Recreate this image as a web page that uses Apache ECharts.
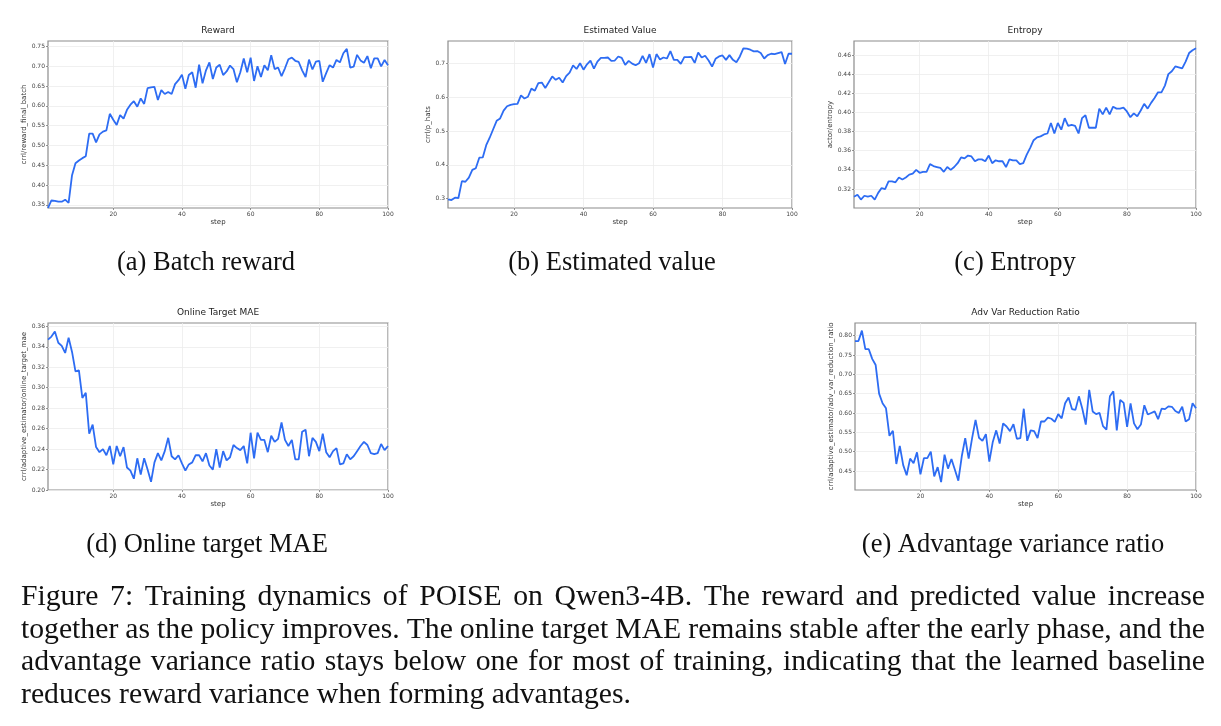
<!DOCTYPE html>
<html>
<head>
<meta charset="utf-8">
<script src="https://cdn.jsdelivr.net/npm/echarts@6/dist/echarts.min.js"></script>
<style>
html, body { margin: 0; padding: 0; background: #fff; }
#main { width: 1221px; height: 726px; }
</style>
</head>
<body>
<div id="main"></div>
<script>
// x values: training step
var steps = [];
for (var i = 1; i <= 100; i++) steps.push(i);

// (a) crrl/reward_final_batch
var reward = [
  0.342,0.361,0.360,0.358,0.358,0.363,0.355,0.425,0.455,0.462,
  0.468,0.473,0.530,0.530,0.508,0.528,0.535,0.538,0.580,0.565,
  0.552,0.577,0.568,0.590,0.603,0.612,0.598,0.619,0.605,0.645,
  0.647,0.648,0.615,0.640,0.630,0.635,0.630,0.655,0.665,0.679,
  0.643,0.678,0.685,0.646,0.704,0.657,0.690,0.710,0.668,0.697,
  0.704,0.678,0.687,0.702,0.693,0.660,0.685,0.720,0.685,0.722,
  0.663,0.700,0.673,0.703,0.690,0.728,0.693,0.697,0.675,0.695,
  0.718,0.722,0.714,0.711,0.690,0.673,0.717,0.692,0.712,0.714,
  0.661,0.683,0.703,0.697,0.716,0.710,0.733,0.744,0.697,0.699,
  0.729,0.715,0.709,0.726,0.695,0.720,0.720,0.700,0.716,0.703
];

// (b) crrl/p_hats
var estValue = [
  0.298,0.296,0.303,0.302,0.352,0.350,0.362,0.385,0.390,0.421,
  0.422,0.458,0.480,0.505,0.530,0.537,0.560,0.573,0.577,0.579,
  0.580,0.605,0.596,0.601,0.625,0.619,0.641,0.643,0.627,0.644,
  0.661,0.651,0.657,0.643,0.662,0.672,0.694,0.683,0.700,0.681,
  0.697,0.708,0.684,0.705,0.716,0.716,0.717,0.707,0.708,0.720,
  0.716,0.695,0.707,0.699,0.694,0.700,0.722,0.701,0.727,0.687,
  0.727,0.711,0.717,0.714,0.736,0.710,0.710,0.698,0.718,0.718,
  0.719,0.701,0.732,0.717,0.722,0.708,0.690,0.713,0.720,0.723,
  0.710,0.724,0.710,0.703,0.720,0.744,0.743,0.740,0.735,0.736,
  0.730,0.714,0.724,0.728,0.727,0.730,0.733,0.698,0.728,0.728
];

// (c) actor/entropy
var entropy = [
  0.312,0.314,0.309,0.313,0.312,0.313,0.309,0.316,0.321,0.320,
  0.328,0.328,0.327,0.332,0.330,0.332,0.335,0.336,0.340,0.337,
  0.338,0.338,0.346,0.344,0.343,0.342,0.338,0.343,0.340,0.343,
  0.347,0.353,0.352,0.355,0.354,0.349,0.351,0.351,0.349,0.355,
  0.347,0.350,0.349,0.349,0.343,0.351,0.350,0.350,0.346,0.347,
  0.356,0.363,0.371,0.374,0.375,0.377,0.378,0.389,0.378,0.389,
  0.382,0.394,0.386,0.387,0.386,0.378,0.394,0.397,0.384,0.384,
  0.384,0.404,0.398,0.405,0.398,0.406,0.404,0.404,0.405,0.401,
  0.395,0.399,0.396,0.402,0.409,0.404,0.410,0.415,0.421,0.421,
  0.428,0.440,0.443,0.448,0.447,0.446,0.453,0.462,0.465,0.467
];

// (d) crrl/adaptive_estimator/online_target_mae
var onlineMae = [
  0.347,0.350,0.355,0.344,0.341,0.334,0.349,0.335,0.316,0.317,
  0.290,0.295,0.255,0.264,0.242,0.237,0.240,0.234,0.243,0.225,
  0.243,0.233,0.242,0.222,0.219,0.211,0.231,0.215,0.231,0.220,
  0.208,0.227,0.236,0.229,0.238,0.251,0.233,0.230,0.234,0.226,
  0.219,0.225,0.227,0.234,0.234,0.228,0.236,0.224,0.220,0.240,
  0.222,0.238,0.229,0.232,0.244,0.241,0.239,0.243,0.226,0.256,
  0.231,0.256,0.249,0.249,0.237,0.253,0.247,0.250,0.266,0.249,
  0.243,0.249,0.230,0.230,0.257,0.259,0.233,0.251,0.247,0.238,
  0.255,0.237,0.232,0.238,0.241,0.225,0.226,0.235,0.230,0.233,
  0.238,0.243,0.247,0.244,0.236,0.235,0.236,0.245,0.239,0.243
];

// (e) crrl/adaptive_estimator/adv_var_reduction_ratio
var advRatio = [
  0.786,0.786,0.813,0.765,0.765,0.740,0.724,0.650,0.625,0.612,
  0.541,0.554,0.468,0.515,0.465,0.439,0.482,0.470,0.498,0.441,
  0.483,0.483,0.500,0.436,0.460,0.421,0.492,0.456,0.481,0.453,
  0.425,0.488,0.535,0.482,0.535,0.582,0.536,0.528,0.545,0.474,
  0.525,0.555,0.521,0.573,0.565,0.553,0.571,0.533,0.535,0.611,
  0.528,0.555,0.553,0.535,0.578,0.578,0.588,0.585,0.577,0.597,
  0.586,0.625,0.640,0.610,0.608,0.643,0.611,0.570,0.660,0.604,
  0.597,0.600,0.566,0.557,0.643,0.656,0.555,0.634,0.626,0.564,
  0.625,0.573,0.558,0.570,0.620,0.596,0.600,0.604,0.584,0.611,
  0.610,0.617,0.616,0.605,0.600,0.616,0.578,0.584,0.625,0.612
];

// tick values
var xTicks = [20, 40, 60, 80, 100];
var yTicksReward  = [0.35, 0.40, 0.45, 0.50, 0.55, 0.60, 0.65, 0.70, 0.75];
var yTicksValue   = [0.3, 0.4, 0.5, 0.6, 0.7];
var yTicksEntropy = [0.32, 0.34, 0.36, 0.38, 0.40, 0.42, 0.44, 0.46];
var yTicksMae     = [0.20, 0.22, 0.24, 0.26, 0.28, 0.30, 0.32, 0.34, 0.36];
var yTicksRatio   = [0.45, 0.50, 0.55, 0.60, 0.65, 0.70, 0.75, 0.80];

var titles = ['Reward', 'Estimated Value', 'Entropy', 'Online Target MAE', 'Adv Var Reduction Ratio'];
var yNames = ['crrl/reward_final_batch', 'crrl/p_hats', 'actor/entropy',
              'crrl/adaptive_estimator/online_target_mae',
              'crrl/adaptive_estimator/adv_var_reduction_ratio'];
var subCaptions = ['(a) Batch reward', '(b) Estimated value', '(c) Entropy',
                   '(d) Online target MAE', '(e) Advantage variance ratio'];
var captionLines = [
  'Figure 7: Training dynamics of POISE on Qwen3-4B. The reward and predicted value increase',
  'together as the policy improves. The online target MAE remains stable after the early phase, and the',
  'advantage variance ratio stays below one for most of training, indicating that the learned baseline',
  'reduces reward variance when forming advantages.'
];
var seriesData = [reward, estValue, entropy, onlineMae, advRatio];
var yTickSets = [yTicksReward, yTicksValue, yTicksEntropy, yTicksMae, yTicksRatio];

// layout of each panel (pixels) and axis ranges
var panels = [
  {left: 48,  top: 41,  width: 340, yMin: 0.342, yMax: 0.764, step: 0.05, dec: 2, split: 8, yNameX: 27, capX: 206, capY: 263},
  {left: 448, top: 41,  width: 344, yMin: 0.2725, yMax: 0.7657, step: 0.1, dec: 1, split: 5, yNameX: 430, capX: 612, capY: 263},
  {left: 854, top: 41,  width: 342, yMin: 0.3002, yMax: 0.4746, step: 0.02, dec: 2, split: 9, yNameX: 835, capX: 1015, capY: 263},
  {left: 48,  top: 323, width: 340, yMin: 0.200, yMax: 0.3633, step: 0.02, dec: 2, split: 8, yNameX: 26, capX: 207, capY: 545},
  {left: 855, top: 323, width: 341, yMin: 0.4007, yMax: 0.8328, step: 0.05, dec: 2, split: 9, yNameX: 835, capX: 1013, capY: 545}
];
var PLOT_H = 167;
var LINE_COLOR = '#2d6cf3';
var SANS = '"DejaVu Sans", sans-serif';
var SERIF = '"Liberation Serif", "Times New Roman", serif';

var grids = [], xAxes = [], yAxes = [], series = [], graphics = [];

panels.forEach(function (p, k) {
  grids.push({
    left: p.left, top: p.top, width: p.width, height: PLOT_H,
    show: true, borderColor: '#8c8c8c', borderWidth: 1.2,
    backgroundColor: '#fff', containLabel: false, outerBoundsMode: 'none'
  });
  xAxes.push({
    type: 'value', gridIndex: k, min: 1, max: 100, splitNumber: 5,
    name: 'step', nameLocation: 'middle', nameGap: 11,
    nameTextStyle: {fontFamily: SANS, fontSize: 7, color: '#333'},
    axisLine: {show: false},
    axisTick: {show: true, length: 2, customValues: xTicks, lineStyle: {color: '#777', width: 0.8}},
    axisLabel: {
      fontFamily: SANS, fontSize: 6, color: '#444', margin: 3, customValues: xTicks,
      formatter: function (v) { return v % 20 === 0 ? String(v) : ''; }
    },
    splitLine: {show: true, lineStyle: {color: '#ececec', width: 0.8}}
  });
  yAxes.push({
    type: 'value', gridIndex: k, min: p.yMin, max: p.yMax, splitNumber: p.split,
    name: yNames[k], nameLocation: 'middle', nameRotate: 90,
    nameGap: p.left - p.yNameX - 3.5,
    nameTextStyle: {fontFamily: SANS, fontSize: 7, color: '#333'},
    axisLine: {show: false},
    axisTick: {show: true, length: 2, customValues: yTickSets[k], lineStyle: {color: '#777', width: 0.8}},
    axisLabel: {
      fontFamily: SANS, fontSize: 6, color: '#444', margin: 3, customValues: yTickSets[k],
      formatter: function (v) {
        var r = v / p.step;
        return Math.abs(r - Math.round(r)) < 1e-6 ? v.toFixed(p.dec) : '';
      }
    },
    splitLine: {show: true, lineStyle: {color: '#ececec', width: 0.8}}
  });
  series.push({
    type: 'line', xAxisIndex: k, yAxisIndex: k,
    data: steps.map(function (s, j) { return [s, seriesData[k][j]]; }),
    showSymbol: false, animation: false,
    lineStyle: {color: LINE_COLOR, width: 1.8},
    itemStyle: {color: LINE_COLOR}
  });
  // panel title
  graphics.push({
    type: 'text', x: p.left + p.width / 2, y: p.top - 10,
    style: {text: titles[k], fontFamily: SANS, fontSize: 9, fill: '#222',
            align: 'center', verticalAlign: 'middle'}
  });
  // sub-caption
  graphics.push({
    type: 'text', x: p.capX, y: p.capY,
    style: {text: subCaptions[k], fontFamily: SERIF, fontSize: 26.5, fill: '#111',
            align: 'center', verticalAlign: 'middle'}
  });
});

// figure caption, justified line by line
var CAP_SIZE = 29.7, CAP_LEFT = 21, CAP_RIGHT = 1205;
var capLineY = [597, 630, 662, 695];
var measureCtx = document.createElement('canvas').getContext('2d');
measureCtx.font = CAP_SIZE + 'px "Liberation Serif"';
captionLines.forEach(function (line, li) {
  var words = line.split(' ');
  var widths = words.map(function (w) { return measureCtx.measureText(w).width; });
  var total = widths.reduce(function (a, b) { return a + b; }, 0);
  var last = li === captionLines.length - 1;
  var gap = last ? measureCtx.measureText(' ').width
                 : (CAP_RIGHT - CAP_LEFT - total) / (words.length - 1);
  var x = CAP_LEFT;
  words.forEach(function (w, wi) {
    graphics.push({
      type: 'text', x: x, y: capLineY[li],
      style: {text: w, fontFamily: SERIF, fontSize: CAP_SIZE, fill: '#111',
              align: 'left', verticalAlign: 'middle'}
    });
    x += widths[wi] + gap;
  });
});

var chart = echarts.init(document.getElementById('main'), null, {renderer: 'canvas'});
chart.setOption({
  animation: false,
  backgroundColor: '#fff',
  grid: grids,
  xAxis: xAxes,
  yAxis: yAxes,
  series: series,
  graphic: graphics
});
</script>
</body>
</html>
